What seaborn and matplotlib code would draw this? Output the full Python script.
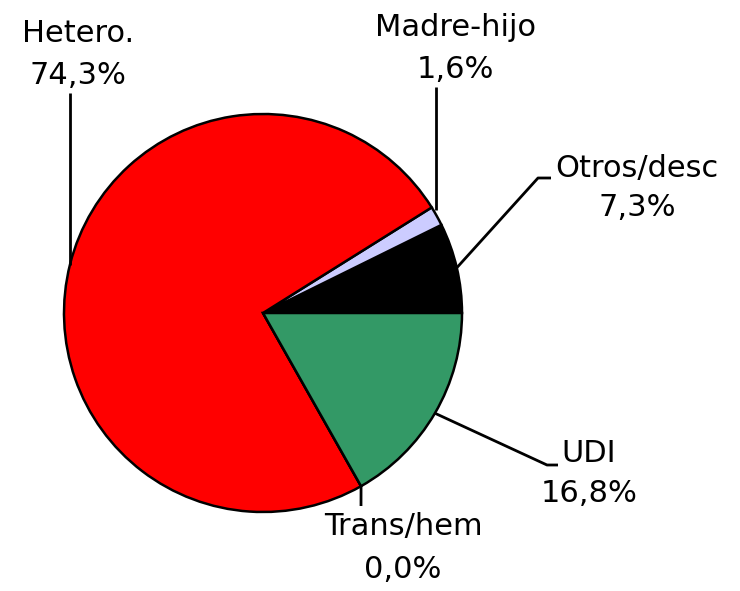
import numpy as np
import matplotlib
matplotlib.use("Agg")
import matplotlib.pyplot as plt
import seaborn as sns

# Data (counterclockwise from 3 o'clock)
categories = ["Otros/desc", "Madre-hijo", "Hetero.", "Trans/hem", "UDI"]
shares = [7.3, 1.6, 74.3, 0.0, 16.8]
pct_labels = ["7,3%", "1,6%", "74,3%", "0,0%", "16,8%"]
colors = ["#000000", "#ccccff", "#ff0000", "#9999ff", "#339966"]

sns.set_theme(style="white")
plt.rcParams["font.family"] = ["DejaVu Sans"]

W, H = 740, 591
fig = plt.figure(figsize=(W / 100, H / 100), dpi=100)
ax = fig.add_axes([0, 0, 1, 1])

cx, cy, r = 263, H - 313, 199
wedges, _ = ax.pie(shares, colors=colors, startangle=0, counterclock=True,
                   center=(cx, cy), radius=r, frame=True,
                   wedgeprops=dict(edgecolor="black", linewidth=1.8))
ax.set_xlim(0, W)
ax.set_ylim(0, H)
ax.set_aspect("equal")
ax.axis("off")

# label layout in pixels
layout = {
    "Hetero.": dict(x=78, y1=33, y2=75, path=[(70, 93)], at=None, pt=(70, 265)),
    "Madre-hijo": dict(x=455, y1=28, y2=70, path=[(436, 87)], at=None, pt=(436, 210)),
    "Otros/desc": dict(x=637, y1=168, y2=208, path=[(551, 178), (538, 178)], at="mid"),
    "UDI": dict(x=589, y1=453, y2=494, path=[(558, 465), (547, 465)], at="mid"),
    "Trans/hem": dict(x=403, y1=527, y2=569, path=[(361, 506)], at="start"),
}

for w, cat, pct in zip(wedges, categories, pct_labels):
    L = layout[cat]
    if L["at"] == "mid":
        ang = np.deg2rad((w.theta1 + w.theta2) / 2)
        end = (cx + r * np.cos(ang), cy + r * np.sin(ang))
    elif L["at"] == "start":
        ang = np.deg2rad(w.theta1)
        end = (cx + r * np.cos(ang), cy + r * np.sin(ang))
    else:
        end = (L["pt"][0], H - L["pt"][1])
    pts = [(px, H - py) for px, py in L["path"]] + [end]
    xs, ys = zip(*pts)
    ax.plot(xs, ys, color="black", lw=2, solid_capstyle="butt")
    ax.text(L["x"], H - L["y1"], cat, ha="center", va="center", fontsize=22, color="black")
    ax.text(L["x"], H - L["y2"], pct, ha="center", va="center", fontsize=22, color="black")

fig.savefig("out.png", dpi=100, facecolor="white")
